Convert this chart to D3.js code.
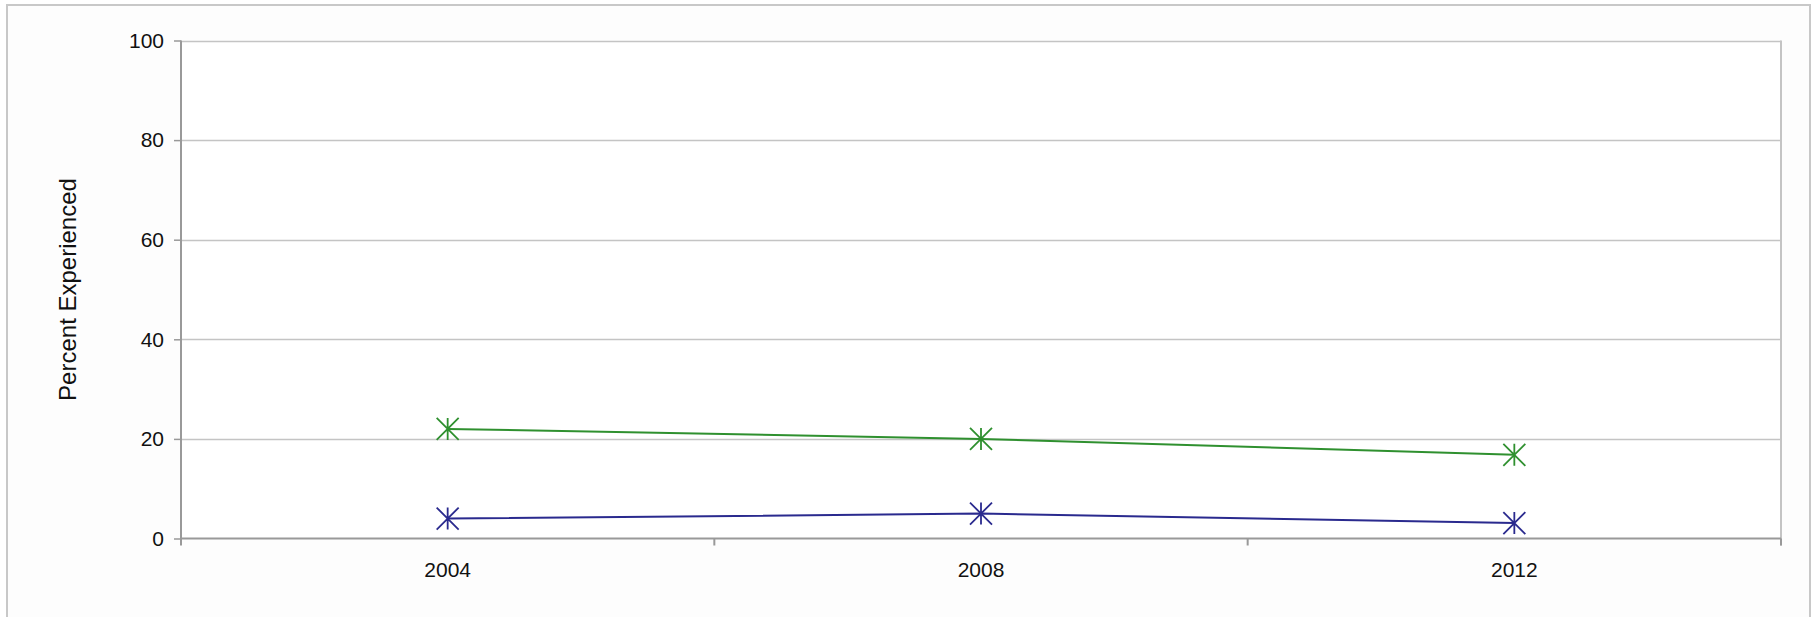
<!DOCTYPE html>
<html>
<head>
<meta charset="utf-8">
<script src="https://cdn.jsdelivr.net/npm/d3@7"></script>
<style>
  html, body { margin: 0; padding: 0; background: #ffffff; }
  svg { display: block; }
  text { font-family: "Liberation Sans", Arial, sans-serif; fill: #111; }
</style>
</head>
<body>
<svg id="chart" width="1812" height="617"></svg>
<script>
const categories = ["2004", "2008", "2012"];
const seriesGreen = [22.0, 20.0, 16.8];
const seriesBlue = [4.0, 5.0, 3.1];
const yTicks = [0, 20, 40, 60, 80, 100];
const yTitle = "Percent Experienced";

const W = 1812, H = 617;
const plot = { left: 181, right: 1781, top: 40.5, bottom: 538.5 };

const svg = d3.select("#chart");

// outer frame (bottom edge falls outside the picture)
svg.append("path")
  .attr("d", `M7,${H + 5} L7,5 L1810,5 L1810,${H + 5}`)
  .attr("fill", "#fdfdfd")
  .attr("stroke", "#c8c8c8")
  .attr("stroke-width", 2);

const x = d3.scaleBand().domain(categories).range([plot.left, plot.right]).paddingInner(0).paddingOuter(0);
const y = d3.scaleLinear().domain([0, 100]).range([plot.bottom, plot.top]);

// plot background
svg.append("rect")
  .attr("x", plot.left).attr("y", plot.top)
  .attr("width", plot.right - plot.left).attr("height", plot.bottom - plot.top)
  .attr("fill", "#ffffff");

// gridlines
svg.append("g").selectAll("line")
  .data(yTicks.filter(d => d > 0))
  .join("line")
  .attr("x1", plot.left).attr("x2", plot.right)
  .attr("y1", d => Math.round(y(d)) + 0.5).attr("y2", d => Math.round(y(d)) + 0.5)
  .attr("stroke", "#c4c4c4").attr("stroke-width", 1.5);

// right border of plot area
svg.append("line")
  .attr("x1", plot.right).attr("x2", plot.right)
  .attr("y1", plot.top).attr("y2", plot.bottom + 7)
  .attr("stroke", "#c4c4c4").attr("stroke-width", 2);

// Y axis
const yAxis = d3.axisLeft(y).tickValues(yTicks).tickSize(7).tickPadding(10);
const gy = svg.append("g").attr("transform", `translate(${plot.left},0)`).call(yAxis);
gy.select(".domain").remove();
gy.selectAll(".tick line").attr("stroke", "#999").attr("stroke-width", 1.5);
gy.selectAll(".tick text").attr("font-size", 21).attr("fill", "#111")
  .style("font-family", "'Liberation Sans', Arial, sans-serif");
svg.append("line")
  .attr("x1", plot.left).attr("x2", plot.left)
  .attr("y1", plot.top).attr("y2", plot.bottom + 7)
  .attr("stroke", "#999").attr("stroke-width", 2);

// X axis
const gx = svg.append("g").attr("transform", `translate(0,${plot.bottom})`)
  .call(d3.axisBottom(x).tickSize(0).tickPadding(24));
gx.select(".domain").remove();
gx.selectAll(".tick text").attr("font-size", 21).attr("fill", "#111")
  .style("font-family", "'Liberation Sans', Arial, sans-serif");
svg.append("line")
  .attr("x1", plot.left).attr("x2", plot.right)
  .attr("y1", plot.bottom).attr("y2", plot.bottom)
  .attr("stroke", "#999").attr("stroke-width", 2);
// tick marks at category boundaries
const boundaries = categories.map(c => x(c)).concat([x(categories[categories.length - 1]) + x.bandwidth()]);
svg.append("g").selectAll("line")
  .data(boundaries.slice(1))
  .join("line")
  .attr("x1", d => d).attr("x2", d => d)
  .attr("y1", plot.bottom).attr("y2", plot.bottom + 7)
  .attr("stroke", "#999").attr("stroke-width", 2);

// Y title
svg.append("text")
  .attr("transform", `translate(76,${(plot.top + plot.bottom) / 2}) rotate(-90)`)
  .attr("text-anchor", "middle")
  .attr("font-size", 24)
  .text(yTitle);

// series
const series = [
  { values: seriesGreen, color: "#2f902f" },
  { values: seriesBlue, color: "#2a2a8e" }
];
const line = d3.line()
  .x((d, i) => x(categories[i]) + x.bandwidth() / 2)
  .y(d => y(d));
const s = 11;
const star = `M${-s},${-s}L${s},${s}M${-s},${s}L${s},${-s}M0,${-s}L0,${s}`;

series.forEach(ser => {
  svg.append("path")
    .datum(ser.values)
    .attr("d", line)
    .attr("fill", "none")
    .attr("stroke", ser.color)
    .attr("stroke-width", 2);
  svg.append("g").selectAll("path")
    .data(ser.values)
    .join("path")
    .attr("transform", (d, i) => `translate(${x(categories[i]) + x.bandwidth() / 2},${y(d)})`)
    .attr("d", star)
    .attr("fill", "none")
    .attr("stroke", ser.color)
    .attr("stroke-width", 1.8);
});
</script>
</body>
</html>
